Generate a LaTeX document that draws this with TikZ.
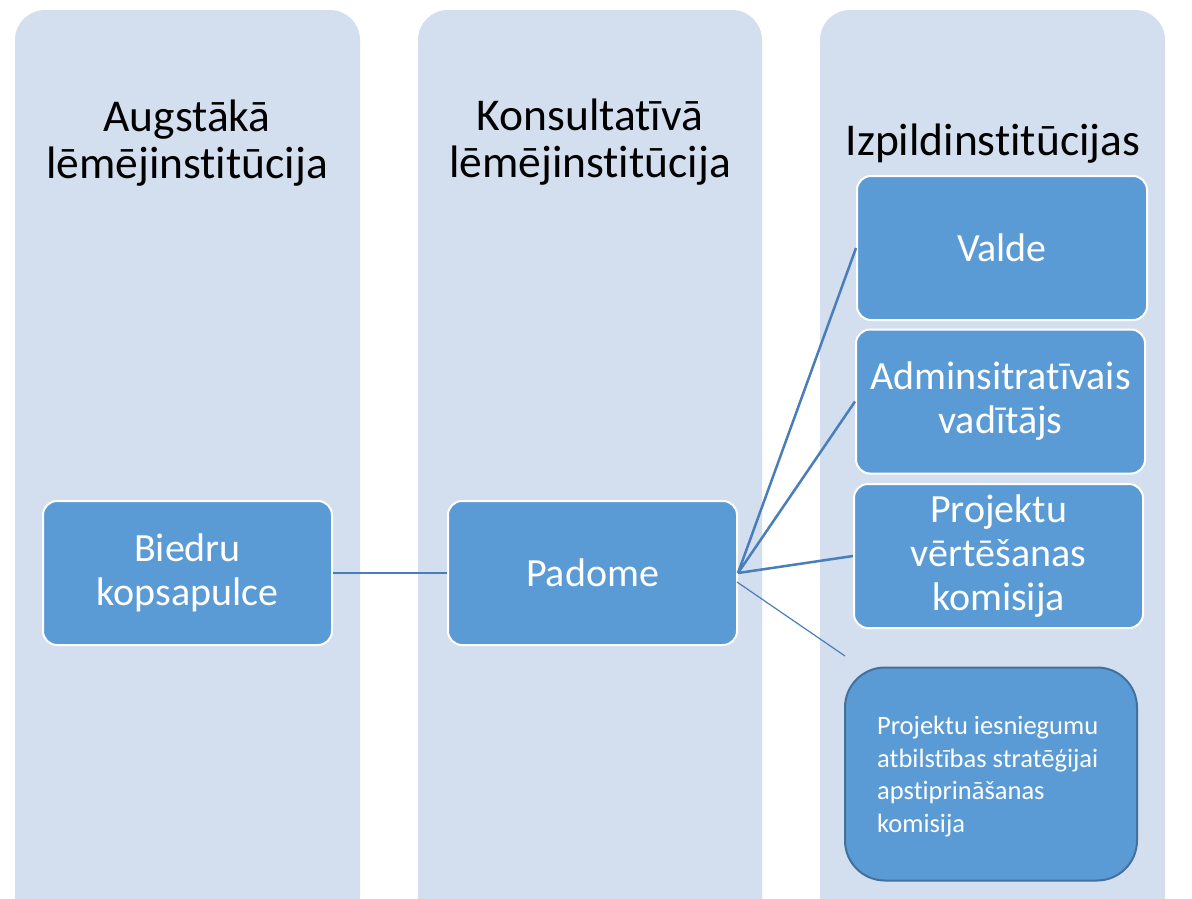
\documentclass[tikz,border=0pt]{standalone}
\usepackage{fontspec}
\setmainfont{Carlito}[Ligatures=NoCommon, RawFeature={-liga;-calt;-dlig}]
\definecolor{colbg}{HTML}{D3DEEF}
\definecolor{boxfill}{HTML}{5B9BD5}
\definecolor{linecol}{HTML}{4A7EBB}
\definecolor{darkedge}{HTML}{41719C}
\tikzset{
  column/.style={fill=colbg, draw=none, rounded corners=30pt},
  bluebox/.style={rectangle, fill=boxfill, draw=white, line width=2pt, rounded corners=14pt,
     text=white, align=center, inner sep=0pt, font=\fontsize{40}{44}\selectfont},
  headtext/.style={align=center, text=black, inner sep=0pt, font=\fontsize{45.5}{47}\selectfont},
  conn/.style={draw=linecol, line width=2.5pt},
  thinconn/.style={draw=linecol, line width=1.2pt},
}
\begin{document}
\begin{tikzpicture}[x=1pt,y=-1pt]
\useasboundingbox (0,0) rectangle (1192,898);
\fill[white] (0,0) rectangle (1192,898);
\begin{scope}
\clip (0,0) rectangle (1192,898);
\path[column] (15,10) rectangle (360,930);
\path[column] (418,10) rectangle (762,930);
\path[column] (820,10) rectangle (1165,930);
\end{scope}

\node[headtext] (h1) at (187,143) {Augstākā\\lēmējinstitūcija};
\node[headtext] (h2) at (590,142) {Konsultatīvā\\lēmējinstitūcija};
\node[headtext] (h3) at (993,144) {Izpildinstitūcijas};

\node[bluebox, minimum width=289pt, minimum height=144pt] (biedri) at (187.5,573) {Biedru\\kopsapulce};
\node[bluebox, minimum width=289pt, minimum height=144pt] (padome) at (592.5,573) {Padome};
\node[bluebox, minimum width=290pt, minimum height=144pt] (valde) at (1002,248) {Valde};
\node[bluebox, minimum width=289pt, minimum height=144pt] (admin) at (1000.5,401.5) {Adminsitratīvais\\vadītājs};
\node[bluebox, minimum width=289pt, minimum height=144pt] (vert) at (998.5,556) {Projektu\\vērtēšanas\\komisija};
\node[rectangle, fill=boxfill, draw=darkedge, line width=2pt, rounded corners=40pt,
      minimum width=292pt, minimum height=213pt, inner sep=0pt] (iesn) at (991,774) {};
\node[anchor=north west, align=left, text=white, inner sep=0pt,
      font=\fontsize{26.5}{32.5}\selectfont] (iesntext) at (877,716)
  {Projektu iesniegumu\\atbilstības stratēģijai\\apstiprināšanas\\komisija};

\coordinate (pe2) at (737,582);
\coordinate (freeend) at (845,656);

\draw[conn] (biedri.east) -- (padome.west);
\draw[conn] (padome.east) -- (valde.west);
\draw[conn] (padome.east) -- (admin.west);
\draw[conn] (padome.east) -- (vert.west);
\draw[thinconn] (pe2) -- (freeend);
\end{tikzpicture}
\end{document}
